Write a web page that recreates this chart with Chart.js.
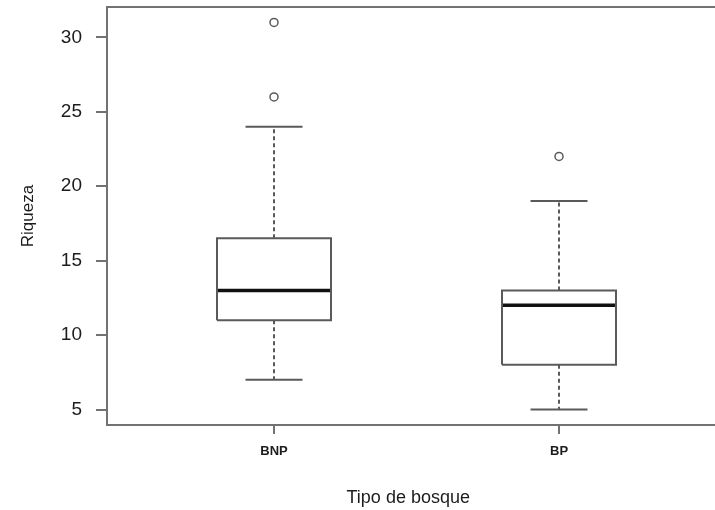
<!DOCTYPE html>
<html>
<head>
<meta charset="utf-8">
<script src="https://cdn.jsdelivr.net/npm/chart.js@4/dist/chart.umd.min.js"></script>
<style>
    body { margin: 0; background: #fff; }
    canvas { display: block; }
</style>
</head>
<body>
<canvas id="boxChart" width="715" height="510"></canvas>
<script>
// data
const categories = ['BNP', 'BP'];
const positions = [1, 2];
const whiskerLow = [7, 5];
const q1 = [11, 8];
const medians = [13, 12];
const q3 = [16.5, 13];
const whiskerHigh = [24, 19];
const outliers = [[26, 31], [22]];
const yTicks = [5, 10, 15, 20, 25, 30];

const lineColor = '#5a5a5a';
const frameColor = '#727272';
const textColor = '#1c1c1c';
const boxHalf = 0.2;
const capHalf = 0.1;

function seg(points, opts) {
    return Object.assign({
        data: points,
        showLine: true,
        pointRadius: 0,
        borderColor: lineColor,
        borderWidth: 1.6,
        fill: false
    }, opts || {});
}

const datasets = [];
positions.forEach((p, i) => {
    // whiskers
    datasets.push(seg([{ x: p, y: q3[i] }, { x: p, y: whiskerHigh[i] }], { borderDash: [4, 3], borderWidth: 2 }));
    datasets.push(seg([{ x: p, y: q1[i] }, { x: p, y: whiskerLow[i] }], { borderDash: [4, 3], borderWidth: 2 }));
    // caps
    datasets.push(seg([{ x: p - capHalf, y: whiskerHigh[i] }, { x: p + capHalf, y: whiskerHigh[i] }], { borderWidth: 2 }));
    datasets.push(seg([{ x: p - capHalf, y: whiskerLow[i] }, { x: p + capHalf, y: whiskerLow[i] }], { borderWidth: 2 }));
    // box
    datasets.push(seg([
        { x: p - boxHalf, y: q1[i] },
        { x: p + boxHalf, y: q1[i] },
        { x: p + boxHalf, y: q3[i] },
        { x: p - boxHalf, y: q3[i] },
        { x: p - boxHalf, y: q1[i] }
    ], { borderWidth: 2 }));
    // median
    datasets.push(seg([{ x: p - boxHalf, y: medians[i] }, { x: p + boxHalf, y: medians[i] }], { borderColor: '#111', borderWidth: 3.5 }));
    // outliers
    datasets.push({
        data: outliers[i].map(v => ({ x: p, y: v })),
        showLine: false,
        pointRadius: 4,
        pointBorderWidth: 1.5,
        pointBorderColor: lineColor,
        pointBackgroundColor: '#fff'
    });
});

// R-style frame: top and bottom lines run off the right edge of the picture
const frame = {
    id: 'frame',
    afterDraw(chart) {
        const { ctx, chartArea } = chart;
        ctx.save();
        ctx.strokeStyle = frameColor;
        ctx.lineWidth = 2;
        ctx.beginPath();
        ctx.moveTo(chartArea.left - 1, chartArea.top);
        ctx.lineTo(chart.width, chartArea.top);
        ctx.moveTo(chartArea.left - 1, chartArea.bottom);
        ctx.lineTo(chart.width, chartArea.bottom);
        ctx.stroke();
        ctx.restore();
    }
};

new Chart(document.getElementById('boxChart').getContext('2d'), {
    type: 'scatter',
    data: { datasets },
    plugins: [frame],
    options: {
        responsive: false,
        animation: false,
        layout: { padding: { top: 7, right: 0, left: 0, bottom: 0 } },
        plugins: {
            legend: { display: false },
            tooltip: { enabled: false }
        },
        scales: {
            x: {
                type: 'linear',
                min: 0.414,
                max: 2.528,
                afterFit: s => { s.height = 85; s.paddingLeft = 0; s.paddingRight = 0; },
                afterBuildTicks: s => { s.ticks = positions.map(v => ({ value: v })); },
                grid: { drawOnChartArea: false, drawTicks: true, tickLength: 9, color: frameColor, lineWidth: 2 },
                border: { display: false },
                ticks: {
                    padding: 10,
                    color: textColor,
                    font: { family: 'Liberation Sans, Arial', size: 13, weight: 'bold' },
                    callback: v => categories[positions.indexOf(v)] || ''
                },
                title: {
                    display: true,
                    text: 'Tipo de bosque',
                    color: textColor,
                    font: { family: 'Liberation Sans, Arial', size: 18 },
                    padding: { top: 0, bottom: 1 }
                }
            },
            y: {
                min: 3.96,
                max: 32.04,
                afterFit: s => { s.width = 107; s.paddingTop = 0; s.paddingBottom = 0; },
                afterBuildTicks: s => { s.ticks = yTicks.map(v => ({ value: v })); },
                grid: { drawOnChartArea: false, drawTicks: true, tickLength: 11, color: frameColor, lineWidth: 2 },
                border: { display: true, color: frameColor, width: 2 },
                ticks: {
                    padding: 14,
                    color: textColor,
                    font: { family: 'Liberation Sans, Arial', size: 19 }
                },
                title: {
                    display: true,
                    text: 'Riqueza',
                    color: textColor,
                    font: { family: 'Liberation Sans, Arial', size: 17 },
                    padding: { top: 18, bottom: 0 }
                }
            }
        }
    }
});
</script>
</body>
</html>
